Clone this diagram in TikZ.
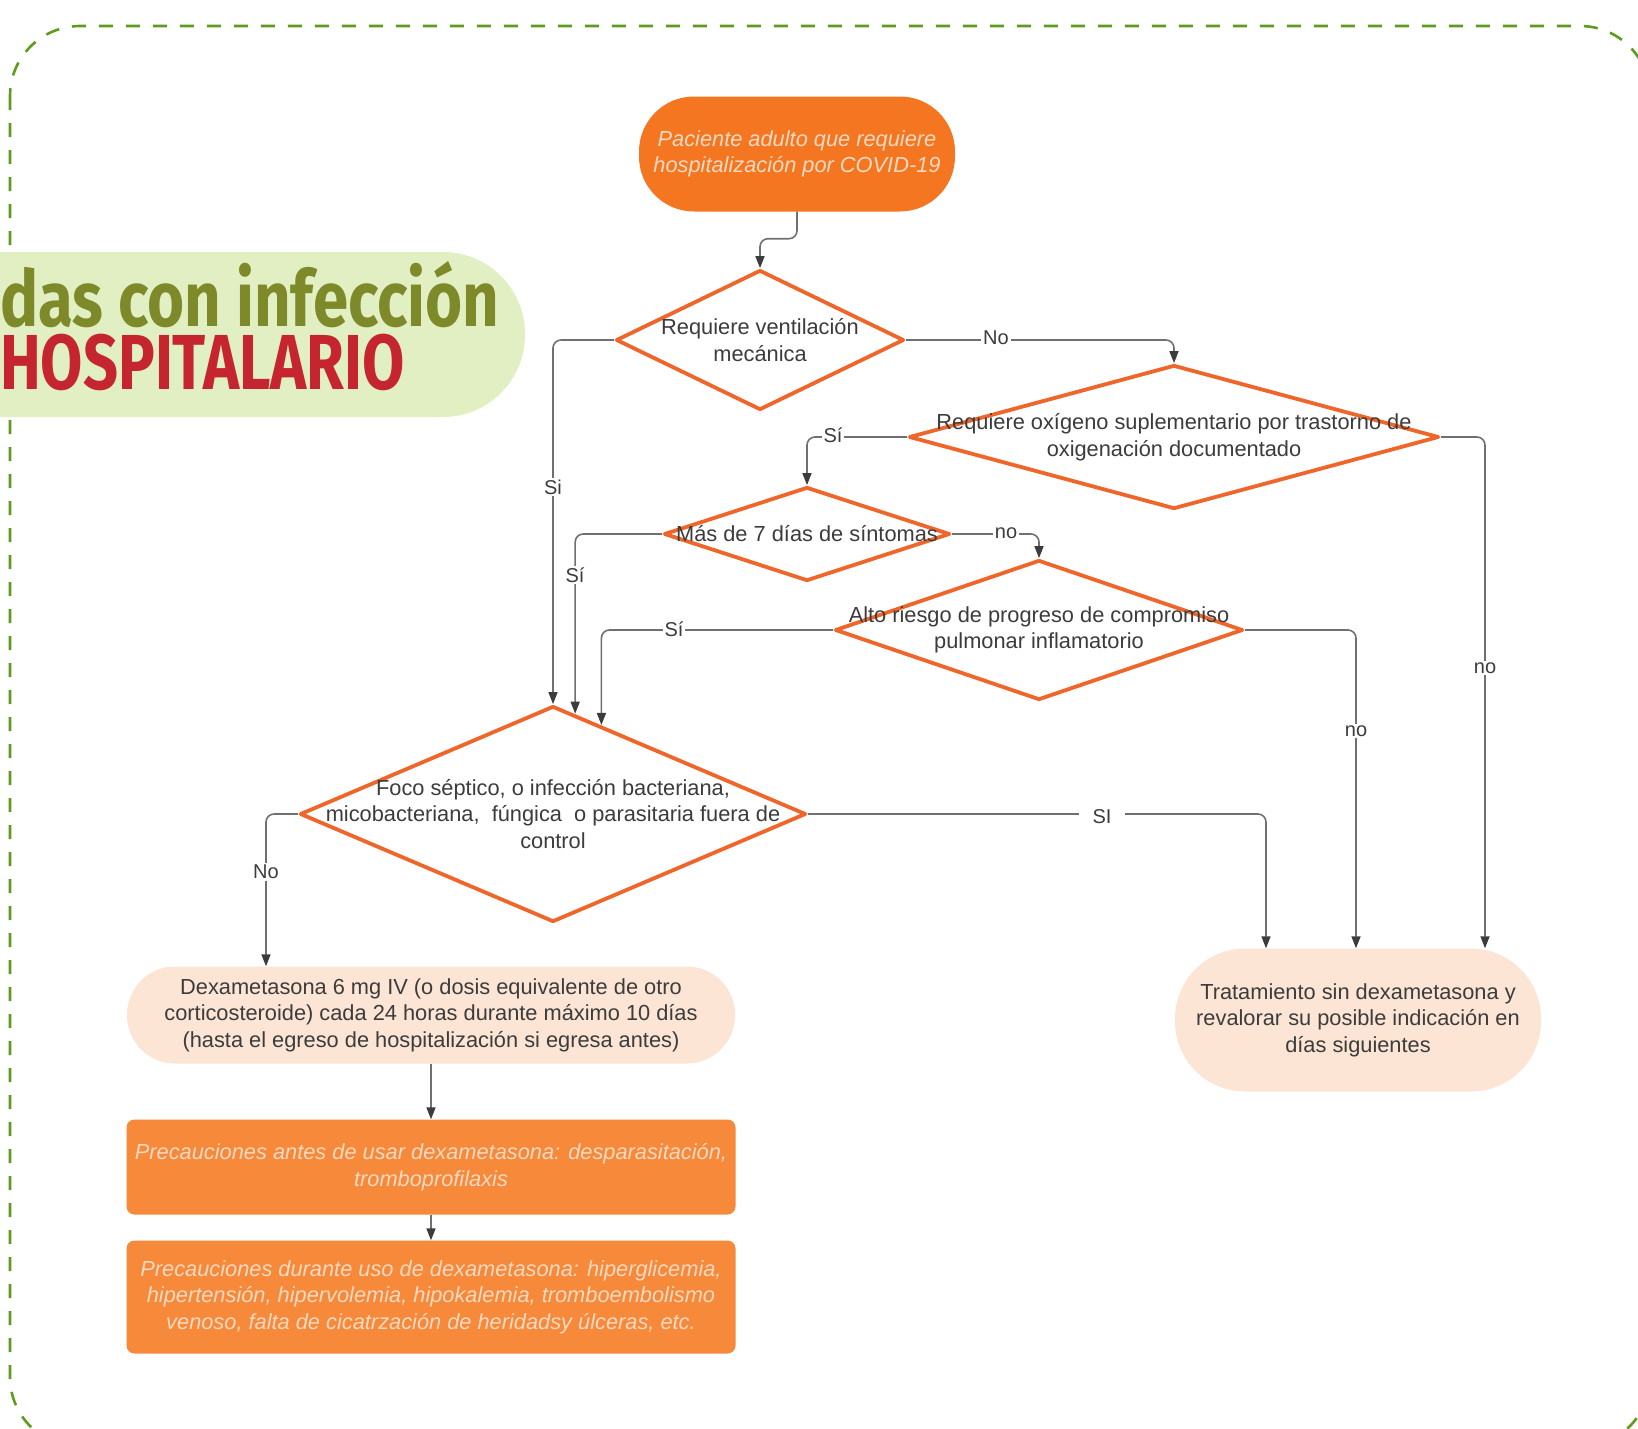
\documentclass[tikz,border=0pt]{standalone}
\usepackage{fontspec}
\usepackage{graphicx}
\setmainfont{Liberation Sans}
\newfontfamily\titlefont{Fira Sans}
\usetikzlibrary{shapes.geometric,arrows.meta,calc}

\definecolor{framegreen}{HTML}{5E9C1E}
\definecolor{titlebg}{HTML}{E2EFC3}
\definecolor{ttlolive}{HTML}{7E8A2A}
\definecolor{ttlred}{HTML}{C4252F}
\definecolor{dgray}{HTML}{3C3C3C}
\definecolor{lgray}{HTML}{707070}
\definecolor{decor}{HTML}{F0662A}
\definecolor{orfill}{HTML}{F47621}
\definecolor{prfill}{HTML}{F6893A}
\definecolor{peach}{HTML}{FCE5D4}
\definecolor{paletxt}{HTML}{FCDAC2}

\tikzset{
  bodyfont/.style={font=\fontsize{21.8}{26.5}\selectfont},
  italfont/.style={font=\fontsize{21.8}{26.5}\selectfont\itshape},
  dia/.style={diamond, draw=decor, fill=white, line width=3.8pt, line join=round, inner sep=0pt},
  diatxt/.style={bodyfont, text=dgray, align=center, inner sep=0pt},
  startbox/.style={rectangle, rounded corners=55, fill=orfill, italfont, text=paletxt,
    align=center, minimum width=316, minimum height=115, inner sep=0pt},
  peachbox/.style={rectangle, fill=peach, bodyfont, text=dgray, align=center, inner sep=0pt},
  precbox/.style={rectangle, rounded corners=8, fill=prfill, italfont, text=paletxt,
    align=center, minimum width=609, inner sep=0pt},
  conn/.style={draw=lgray, line width=1.6pt, rounded corners=8,
    -{Triangle[length=12pt,width=9pt,color=dgray]}},
  lab/.style={fill=white, inner sep=2pt, font=\fontsize{20}{22}\selectfont, text=dgray},
  ttl/.style={inner sep=0pt, align=left, font=\titlefont\bfseries\fontsize{78}{63}\selectfont},
}

\begin{document}
\begin{tikzpicture}[x=1pt,y=-1pt]
\useasboundingbox (0,0) rectangle (1638,1428);

% page frame and title banner
\begin{scope}
  \clip (0,0) rectangle (1638,1428);
  \draw[framegreen, line width=2.6pt, dash pattern=on 14pt off 13pt, rounded corners=70]
    (10,26) rectangle (1650,1447);
  \fill[titlebg, rounded corners=82] (-100,252) rectangle (525,417);
  \node[ttl, anchor=base west] (ttl) at (0,389)
    {\textcolor{ttlolive}{\scalebox{0.815}[1]{das con infección}}\\
     \textcolor{ttlred}{\scalebox{0.785}[1]{HOSPITALARIO}}};
\end{scope}

% start
\node[startbox] (s) at (797,154) {Paciente adulto que requiere\\hospitalización por COVID-19};

% decisions
\node[dia, minimum width=288, minimum height=140] (d1) at (760,340) {};
\node[diatxt] (d1t) at (d1) {Requiere ventilación\\mecánica};

\node[dia, minimum width=530, minimum height=144] (d2) at (1174,437) {};
\node[diatxt] (d2t) at (d2) {Requiere oxígeno suplementario por trastorno de\\oxigenación documentado};

\node[dia, minimum width=286, minimum height=94] (d3) at (807,534) {};
\node[diatxt] (d3t) at (d3) {Más de 7 días de síntomas};

\node[dia, minimum width=408, minimum height=140] (d4) at (1039,630) {};
\node[diatxt] (d4t) at (d4) {Alto riesgo de progreso de compromiso\\pulmonar inflamatorio};

\node[dia, minimum width=506, minimum height=216] (d5) at (553,814) {};
\node[diatxt] (d5t) at (d5) {Foco séptico, o infección bacteriana,\\micobacteriana,\ \ fúngica\ \ o parasitaria fuera de\\control};

% outcomes
\node[peachbox, rounded corners=48, minimum width=608, minimum height=97] (dexa) at (431,1015)
  {Dexametasona 6 mg IV (o dosis equivalente de otro\\corticosteroide) cada 24 horas durante máximo 10 días\\(hasta el egreso de hospitalización si egresa antes)};
\node[peachbox, rounded corners=70, minimum width=366, minimum height=143] (trat) at (1358,1020)
  {Tratamiento sin dexametasona y\\revalorar su posible indicación en\\días siguientes};

\node[precbox, minimum height=95] (p1) at (431,1167)
  {Precauciones antes de usar dexametasona: desparasitación,\\tromboprofilaxis};
\node[precbox, minimum height=113] (p2) at (431,1297)
  {Precauciones durante uso de dexametasona: hiperglicemia,\\hipertensión, hipervolemia, hipokalemia, tromboembolismo\\venoso, falta de cicatrzación de heridadsy úlceras, etc.};

% connectors
\draw[conn] (s.south) -- ++(0,27) -| (d1.north);
\draw[conn] (d1.east) -| (d2.north);
\draw[conn] (d1.west) -| (d5.north);
\draw[conn] (d2.west) -| (d3.north);
\draw[conn] (d2.east) -| ([xshift=127pt]trat.north);
\draw[conn] (d3.east) -| (d4.north);
\draw[conn] (d3.west) -| ($(d5.north)!0.087!(d5.east)$);
\draw[conn] (d4.west) -| ($(d5.north)!0.19!(d5.east)$);
\draw[conn] (d4.east) -| ([xshift=-2pt]trat.north);
\draw[conn] (d5.east) -| ([xshift=-92pt]trat.north);
\draw[conn] (d5.west) -| ([xshift=-165pt]dexa.north);
\draw[conn] (dexa.south) -- (p1.north);
\draw[conn] (p1.south) -- (p2.north);

% connector labels
\node[lab] (l1) at (996,338) {No};
\node[lab] (l2) at (553,487) {Si};
\node[lab] (l3) at (833,435) {Sí};
\node[lab] (l4) at (1485,668) {no};
\node[lab] (l5) at (575,575) {Sí};
\node[lab] (l6) at (1006,533) {no};
\node[lab] (l7) at (674,629) {Sí};
\node[lab] (l8) at (1356,731) {no};
\node[lab, inner xsep=14pt] (l9) at (1102,817) {SI};
\node[lab] (l10) at (266,872) {No};
\end{tikzpicture}
\end{document}
